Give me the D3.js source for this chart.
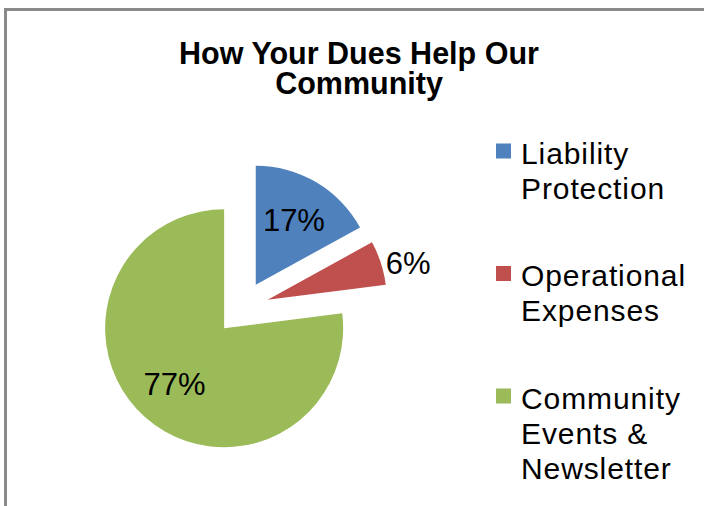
<!DOCTYPE html>
<html>
<head>
<meta charset="utf-8">
<script src="https://cdn.jsdelivr.net/npm/d3@7"></script>
<style>
  html, body { margin: 0; padding: 0; background: #fff; }
  svg { display: block; font-family: "Liberation Sans", Arial, sans-serif; }
</style>
</head>
<body>
<svg id="chart" width="704" height="506"></svg>
<script>
// data
const categories = ["Liability Protection", "Operational Expenses", "Community Events & Newsletter"];
const legendLines = [["Liability", "Protection"], ["Operational", "Expenses"], ["Community", "Events &", "Newsletter"]];
const values = [17, 6, 77];
const colors = ["#4F81BD", "#C0504D", "#9BBB59"];
const titleLines = ["How Your Dues Help Our", "Community"];

const width = 704, height = 506;
const svg = d3.select("#chart");

// chart frame (runs off the right and bottom edges)
svg.append("rect")
    .attr("x", 5.5).attr("y", 9.5)
    .attr("width", width + 20).attr("height", height + 20)
    .attr("fill", "none")
    .attr("stroke", "#8a8a8a")
    .attr("stroke-width", 3);

// title
svg.append("g").selectAll("text")
    .data(titleLines)
    .join("text")
      .attr("x", 359)
      .attr("y", (d, i) => 64 + i * 30)
      .attr("text-anchor", "middle")
      .attr("font-size", 30.5)
      .attr("font-weight", "bold")
      .attr("fill", "#000")
      .text(d => d);

// pie
const cx = 242, cy = 308, radius = 119, explode = 27;
const total = d3.sum(values);

const pie = d3.pie().sort(null).value(d => d);
const arc = d3.arc().innerRadius(0).outerRadius(radius);
const arcs = pie(values);

const g = svg.append("g").attr("transform", `translate(${cx},${cy})`);

const slice = g.selectAll(".slice")
    .data(arcs)
    .join("g")
      .attr("class", "slice")
      .attr("transform", d => {
          const mid = (d.startAngle + d.endAngle) / 2;
          return `translate(${Math.sin(mid) * explode},${-Math.cos(mid) * explode})`;
      });

slice.append("path")
    .attr("d", arc)
    .attr("fill", (d, i) => colors[i]);

// percentage labels: inside for big slices, just outside for the small one
slice.append("text")
    .attr("font-size", 31)
    .attr("fill", "#000")
    .attr("dy", "0.35em")
    .attr("text-anchor", d => (d.value / total < 0.1 ? "start" : "middle"))
    .attr("transform", d => {
        const mid = (d.startAngle + d.endAngle) / 2;
        if (d.value / total < 0.1) {
            return `translate(${Math.sin(mid) * radius + 5},${-Math.cos(mid) * radius})`;
        }
        const lr = radius * 0.63;
        return `translate(${Math.sin(mid) * lr},${-Math.cos(mid) * lr})`;
    })
    .text(d => Math.round(d.value / total * 100) + "%");

// legend
const legend = svg.append("g").attr("transform", "translate(496,163.5)");
const item = legend.selectAll(".item")
    .data(categories)
    .join("g")
      .attr("class", "item")
      .attr("transform", (d, i) => `translate(0,${i * 122.5})`);

item.append("rect")
    .attr("x", 0).attr("y", -20)
    .attr("width", 15).attr("height", 15)
    .attr("fill", (d, i) => colors[i]);

item.each(function(d, i) {
    d3.select(this).selectAll("text")
        .data(legendLines[i])
        .join("text")
          .attr("x", 25)
          .attr("y", (t, j) => j * 35)
          .attr("font-size", 30)
          .attr("letter-spacing", 0.9)
          .attr("fill", "#000")
          .text(t => t);
});
</script>
</body>
</html>
